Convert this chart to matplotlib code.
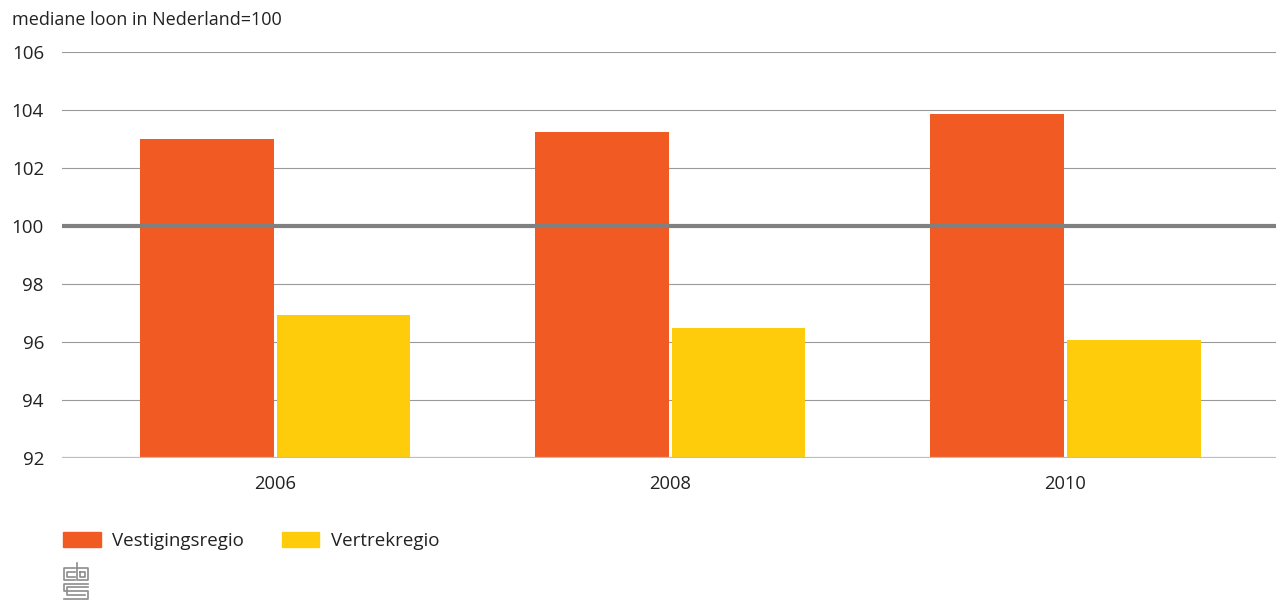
import numpy as np
import matplotlib.pyplot as plt
from matplotlib.patches import Patch
from matplotlib.lines import Line2D

plt.rcParams['font.family'] = ['Open Sans', 'DejaVu Sans']

years = ['2006', '2008', '2010']
vestiging = [103.0, 103.23, 103.86]
vertrek = [96.93, 96.48, 96.07]

orange = '#F15A22'
yellow = '#FFCC0B'

fig = plt.figure(figsize=(12.76, 6), dpi=100)
ax = fig.add_axes([62 / 1276, 1 - 458 / 600, 1 - 62 / 1276, (458 - 52) / 600])

x = np.arange(len(years))
w = 0.339
ax.bar(x - 0.1725, np.array(vestiging) - 92, w, bottom=92, color=orange, zorder=2)
ax.bar(x + 0.1735, np.array(vertrek) - 92, w, bottom=92, color=yellow, zorder=2)

ax.set_xlim(-0.539, 2.534)
ax.set_ylim(92, 106)
ax.set_yticks(np.arange(92, 107, 2))
ax.set_xticks(x)
ax.set_xticklabels(years)

ax.grid(axis='y', color='#9a9a9a', linewidth=0.8, zorder=1)
ax.axhline(100, color='#808080', linewidth=3, zorder=3)
ax.axhline(92, color='#bdbdbd', linewidth=1.6, zorder=3)

for s in ax.spines.values():
    s.set_visible(False)
ax.tick_params(axis='y', length=0, pad=13, labelsize=13.5, colors='#222222')
ax.tick_params(axis='x', length=0, pad=12, labelsize=13.2, colors='#222222')

fig.text(12 / 1276, 1 - 20 / 600, 'mediane loon in Nederland=100', fontsize=13,
         color='#222222', va='center', ha='left')

handles = [Patch(color=orange, label='Vestigingsregio'),
           Patch(color=yellow, label='Vertrekregio')]
fig.legend(handles=handles, loc='center left', bbox_to_anchor=(63 / 1276, 1 - 541 / 600),
           ncol=2, frameon=False, fontsize=13.5, handlelength=2.0, handleheight=0.85,
           handletextpad=0.62, columnspacing=2.0, labelcolor='#222222',
           borderpad=0, borderaxespad=0)

# small cbs logo mark
logo = '#8c8c8c'
def seg(xs, ys):
    fig.add_artist(Line2D(np.array(xs) / 1276, 1 - np.array(ys) / 600,
                          color=logo, linewidth=1.2))
seg([75, 64, 64, 75], [568, 568, 580, 580])
seg([75, 67, 67, 75], [572, 572, 577, 577])
seg([77, 77, 88, 88, 77], [563, 580, 580, 568, 568])
seg([80, 80, 85, 85, 80], [572, 577, 577, 572, 572])
seg([88, 64, 64, 88, 88, 64], [584, 584, 591, 591, 599, 599])
seg([88, 67, 67, 85], [587, 587, 595, 595])

fig.savefig('out.png', dpi=100, facecolor='white')
